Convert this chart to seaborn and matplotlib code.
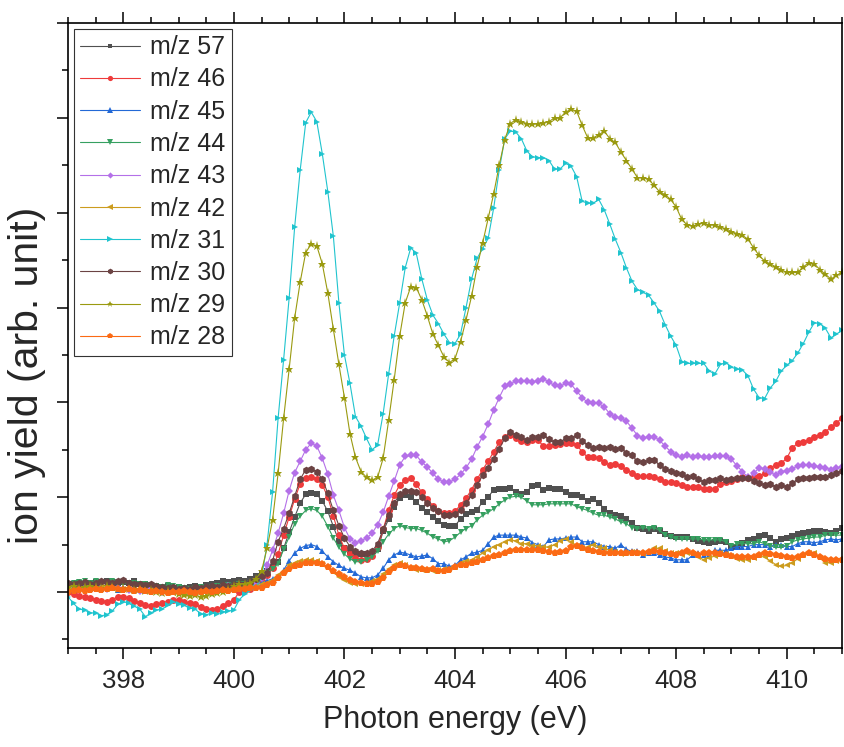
import numpy as np
import pandas as pd
import matplotlib
matplotlib.use("Agg")
import matplotlib.pyplot as plt
from matplotlib.ticker import MultipleLocator
import seaborn as sns

# Photon energy grid (eV), 0.1 eV steps
energy = np.round(np.arange(397.0, 411.05, 0.1), 1)

mz57 = [0.08, 0.09, 0.10, 0.09, 0.10, 0.11, 0.10, 0.12, 0.11, 0.10,
        0.11, 0.10, 0.12, 0.09, 0.08, 0.07, 0.06, 0.05, 0.06, 0.04,
        0.05, 0.04, 0.05, 0.06, 0.05, 0.07, 0.08, 0.10, 0.12, 0.11,
        0.12, 0.13, 0.12, 0.14, 0.17, 0.20, 0.22, 0.26, 0.32, 0.46,
        0.63, 0.79, 0.94, 1.03, 1.04, 1.03, 0.96, 0.85, 0.69, 0.54,
        0.46, 0.42, 0.40, 0.40, 0.40, 0.40, 0.45, 0.64, 0.77, 0.90,
        0.99, 1.02, 1.00, 0.95, 0.89, 0.84, 0.79, 0.75, 0.71, 0.70,
        0.70, 0.77, 0.82, 0.84, 0.87, 0.95, 1.00, 1.08, 1.09, 1.09,
        1.10, 1.05, 1.03, 1.06, 1.12, 1.13, 1.08, 1.10, 1.09, 1.09,
        1.05, 1.02, 1.02, 1.00, 0.96, 0.98, 0.94, 0.88, 0.83, 0.81,
        0.80, 0.77, 0.73, 0.68, 0.67, 0.64, 0.67, 0.64, 0.61, 0.59,
        0.58, 0.58, 0.58, 0.56, 0.54, 0.53, 0.52, 0.53, 0.54, 0.53,
        0.47, 0.48, 0.52, 0.55, 0.56, 0.59, 0.60, 0.57, 0.53, 0.56,
        0.57, 0.59, 0.61, 0.62, 0.63, 0.64, 0.64, 0.63, 0.62, 0.64,
        0.68]

mz46 = [0.00, -0.02, -0.04, -0.05, -0.06, -0.08, -0.09, -0.10, -0.08, -0.05,
        -0.05, -0.06, -0.09, -0.12, -0.14, -0.15, -0.13, -0.12, -0.10, -0.08,
        -0.08, -0.10, -0.12, -0.13, -0.16, -0.18, -0.19, -0.18, -0.15, -0.12,
        -0.08, 0.00, 0.02, 0.03, 0.06, 0.12, 0.18, 0.25, 0.40, 0.60,
        0.79, 0.98, 1.14, 1.20, 1.21, 1.19, 1.13, 1.00, 0.80, 0.60,
        0.46, 0.40, 0.36, 0.34, 0.35, 0.38, 0.47, 0.66, 0.86, 1.02,
        1.13, 1.18, 1.20, 1.14, 1.05, 0.98, 0.91, 0.85, 0.83, 0.83,
        0.85, 0.92, 0.99, 1.08, 1.19, 1.29, 1.38, 1.48, 1.58, 1.63,
        1.66, 1.62, 1.59, 1.58, 1.60, 1.60, 1.54, 1.54, 1.55, 1.56,
        1.57, 1.57, 1.55, 1.48, 1.42, 1.42, 1.41, 1.37, 1.34, 1.35,
        1.33, 1.29, 1.26, 1.22, 1.22, 1.22, 1.21, 1.19, 1.16, 1.16,
        1.15, 1.13, 1.11, 1.11, 1.11, 1.09, 1.09, 1.09, 1.14, 1.16,
        1.17, 1.19, 1.21, 1.20, 1.21, 1.22, 1.25, 1.31, 1.34, 1.36,
        1.41, 1.52, 1.57, 1.58, 1.60, 1.64, 1.66, 1.69, 1.74, 1.78,
        1.84]

mz45 = [0.03, 0.02, 0.04, 0.05, 0.03, 0.04, 0.03, 0.05, 0.04, 0.02,
        0.03, 0.04, 0.02, 0.03, 0.01, 0.02, 0.03, 0.01, 0.02, 0.00,
        0.01, 0.02, 0.00, 0.01, 0.02, 0.01, 0.03, 0.02, 0.03, 0.04,
        0.03, 0.04, 0.05, 0.06, 0.08, 0.10, 0.12, 0.14, 0.16, 0.23,
        0.33, 0.41, 0.46, 0.49, 0.50, 0.48, 0.43, 0.37, 0.32, 0.28,
        0.25, 0.23, 0.20, 0.16, 0.15, 0.15, 0.18, 0.25, 0.34, 0.39,
        0.42, 0.41, 0.39, 0.37, 0.38, 0.39, 0.35, 0.30, 0.30, 0.27,
        0.28, 0.34, 0.37, 0.41, 0.42, 0.44, 0.51, 0.58, 0.60, 0.60,
        0.60, 0.60, 0.58, 0.57, 0.52, 0.50, 0.48, 0.55, 0.56, 0.56,
        0.57, 0.58, 0.58, 0.53, 0.53, 0.53, 0.50, 0.48, 0.48, 0.46,
        0.50, 0.45, 0.43, 0.43, 0.39, 0.41, 0.41, 0.39, 0.37, 0.36,
        0.34, 0.34, 0.34, 0.39, 0.41, 0.39, 0.39, 0.44, 0.44, 0.44,
        0.46, 0.48, 0.48, 0.48, 0.50, 0.50, 0.50, 0.48, 0.50, 0.50,
        0.48, 0.48, 0.51, 0.53, 0.53, 0.52, 0.53, 0.55, 0.56, 0.55,
        0.56]

mz44 = [0.09, 0.10, 0.11, 0.12, 0.10, 0.12, 0.11, 0.10, 0.12, 0.11,
        0.10, 0.09, 0.10, 0.08, 0.09, 0.07, 0.06, 0.05, 0.07, 0.06,
        0.05, 0.04, 0.03, 0.04, 0.05, 0.04, 0.05, 0.06, 0.05, 0.07,
        0.06, 0.08, 0.09, 0.10, 0.12, 0.16, 0.20, 0.24, 0.30, 0.45,
        0.58, 0.72, 0.80, 0.86, 0.88, 0.86, 0.80, 0.69, 0.57, 0.47,
        0.40, 0.35, 0.32, 0.32, 0.34, 0.37, 0.43, 0.53, 0.61, 0.67,
        0.70, 0.68, 0.67, 0.67, 0.65, 0.62, 0.58, 0.56, 0.53, 0.54,
        0.58, 0.63, 0.67, 0.70, 0.76, 0.81, 0.84, 0.88, 0.93, 0.97,
        1.00, 1.01, 1.00, 0.96, 0.92, 0.92, 0.92, 0.93, 0.93, 0.93,
        0.93, 0.93, 0.90, 0.88, 0.86, 0.83, 0.81, 0.81, 0.79, 0.77,
        0.74, 0.72, 0.68, 0.67, 0.68, 0.67, 0.68, 0.65, 0.60, 0.58,
        0.56, 0.56, 0.56, 0.56, 0.56, 0.55, 0.55, 0.55, 0.55, 0.53,
        0.49, 0.51, 0.51, 0.51, 0.51, 0.53, 0.51, 0.49, 0.47, 0.47,
        0.49, 0.53, 0.55, 0.56, 0.57, 0.58, 0.58, 0.60, 0.60, 0.60,
        0.60]

mz43 = [0.04, 0.05, 0.03, 0.04, 0.05, 0.06, 0.04, 0.03, 0.05, 0.04,
        0.03, 0.02, 0.03, 0.01, 0.02, 0.03, 0.02, 0.00, 0.01, 0.02,
        0.01, 0.00, -0.01, 0.00, 0.02, 0.01, 0.03, 0.04, 0.05, 0.06,
        0.05, 0.07, 0.06, 0.08, 0.10, 0.15, 0.28, 0.44, 0.62, 0.83,
        1.07, 1.26, 1.38, 1.50, 1.57, 1.54, 1.41, 1.24, 1.02, 0.86,
        0.68, 0.56, 0.52, 0.54, 0.57, 0.62, 0.71, 0.84, 1.01, 1.17,
        1.34, 1.43, 1.44, 1.44, 1.37, 1.32, 1.25, 1.19, 1.16, 1.16,
        1.19, 1.24, 1.31, 1.40, 1.53, 1.64, 1.77, 1.92, 2.05, 2.17,
        2.19, 2.23, 2.23, 2.23, 2.21, 2.23, 2.25, 2.21, 2.18, 2.17,
        2.20, 2.19, 2.12, 2.05, 2.00, 1.99, 1.99, 1.95, 1.88, 1.85,
        1.83, 1.80, 1.73, 1.65, 1.62, 1.64, 1.64, 1.60, 1.54, 1.48,
        1.44, 1.42, 1.44, 1.42, 1.43, 1.42, 1.42, 1.43, 1.43, 1.43,
        1.40, 1.33, 1.27, 1.21, 1.25, 1.31, 1.30, 1.27, 1.23, 1.27,
        1.28, 1.30, 1.33, 1.34, 1.34, 1.33, 1.32, 1.31, 1.29, 1.31,
        1.32]

mz42 = [0.04, 0.03, 0.05, 0.04, 0.03, 0.04, 0.05, 0.03, 0.04, 0.02,
        0.03, 0.02, 0.03, 0.02, 0.01, 0.02, 0.00, 0.01, 0.00, -0.01,
        0.00, -0.02, -0.01, 0.00, -0.02, -0.01, 0.00, 0.01, 0.02, 0.03,
        0.03, 0.04, 0.05, 0.05, 0.06, 0.08, 0.10, 0.13, 0.18, 0.22,
        0.28, 0.31, 0.33, 0.34, 0.34, 0.33, 0.30, 0.26, 0.21, 0.16,
        0.13, 0.10, 0.09, 0.09, 0.10, 0.12, 0.14, 0.19, 0.24, 0.28,
        0.31, 0.29, 0.25, 0.23, 0.23, 0.23, 0.22, 0.23, 0.24, 0.24,
        0.26, 0.31, 0.33, 0.34, 0.37, 0.41, 0.44, 0.48, 0.50, 0.53,
        0.55, 0.54, 0.51, 0.51, 0.49, 0.49, 0.48, 0.47, 0.50, 0.54,
        0.56, 0.53, 0.49, 0.46, 0.47, 0.50, 0.48, 0.46, 0.44, 0.42,
        0.40, 0.41, 0.42, 0.41, 0.40, 0.43, 0.46, 0.46, 0.43, 0.41,
        0.41, 0.39, 0.41, 0.40, 0.37, 0.34, 0.36, 0.38, 0.41, 0.40,
        0.38, 0.35, 0.34, 0.34, 0.36, 0.39, 0.37, 0.33, 0.29, 0.27,
        0.28, 0.31, 0.35, 0.39, 0.41, 0.41, 0.36, 0.31, 0.31, 0.33,
        0.34]

mz31 = [-0.05, -0.12, -0.18, -0.19, -0.22, -0.22, -0.25, -0.24, -0.20, -0.13,
        -0.10, -0.12, -0.15, -0.18, -0.26, -0.22, -0.19, -0.18, -0.14, -0.10,
        -0.13, -0.14, -0.17, -0.18, -0.23, -0.24, -0.22, -0.23, -0.21, -0.20,
        -0.19, -0.08, -0.02, 0.02, 0.05, 0.15, 0.50, 1.05, 1.83, 2.45,
        3.10, 3.85, 4.45, 4.95, 5.06, 4.96, 4.62, 4.22, 3.75, 3.05,
        2.50, 2.20, 1.85, 1.75, 1.62, 1.50, 1.55, 1.88, 2.30, 2.70,
        3.05, 3.42, 3.63, 3.57, 3.30, 3.08, 2.92, 2.83, 2.72, 2.63,
        2.62, 2.72, 3.00, 3.30, 3.52, 3.62, 3.73, 4.05, 4.45, 4.78,
        4.86, 4.85, 4.78, 4.65, 4.59, 4.58, 4.58, 4.55, 4.46, 4.46,
        4.52, 4.49, 4.38, 4.12, 4.10, 4.10, 4.14, 4.03, 3.88, 3.72,
        3.58, 3.42, 3.28, 3.19, 3.16, 3.13, 3.05, 2.96, 2.82, 2.70,
        2.60, 2.43, 2.41, 2.41, 2.41, 2.41, 2.33, 2.30, 2.40, 2.42,
        2.37, 2.35, 2.34, 2.28, 2.14, 2.05, 2.04, 2.15, 2.22, 2.33,
        2.39, 2.44, 2.52, 2.62, 2.74, 2.84, 2.83, 2.78, 2.68, 2.72,
        2.76]

mz30 = [0.10, 0.08, 0.10, 0.11, 0.09, 0.10, 0.12, 0.11, 0.10, 0.12,
        0.13, 0.10, 0.09, 0.08, 0.07, 0.08, 0.06, 0.05, 0.04, 0.05,
        0.03, 0.04, 0.03, 0.05, 0.04, 0.05, 0.06, 0.05, 0.07, 0.06,
        0.07, 0.08, 0.09, 0.11, 0.14, 0.17, 0.20, 0.33, 0.53, 0.67,
        0.83, 1.01, 1.19, 1.29, 1.30, 1.27, 1.19, 1.04, 0.86, 0.70,
        0.57, 0.48, 0.43, 0.41, 0.41, 0.43, 0.51, 0.66, 0.81, 0.94,
        1.03, 1.07, 1.07, 1.05, 1.00, 0.94, 0.89, 0.85, 0.81, 0.81,
        0.82, 0.87, 0.94, 1.02, 1.13, 1.23, 1.31, 1.40, 1.51, 1.62,
        1.69, 1.66, 1.63, 1.60, 1.63, 1.63, 1.66, 1.61, 1.58, 1.58,
        1.62, 1.62, 1.66, 1.59, 1.55, 1.52, 1.53, 1.52, 1.53, 1.51,
        1.52, 1.47, 1.44, 1.38, 1.37, 1.39, 1.39, 1.34, 1.30, 1.28,
        1.26, 1.24, 1.21, 1.22, 1.19, 1.16, 1.18, 1.18, 1.20, 1.18,
        1.19, 1.20, 1.20, 1.20, 1.17, 1.15, 1.13, 1.14, 1.11, 1.13,
        1.11, 1.15, 1.19, 1.20, 1.20, 1.21, 1.21, 1.21, 1.23, 1.26,
        1.28]

mz29 = [0.05, 0.06, 0.04, 0.05, 0.06, 0.05, 0.04, 0.06, 0.05, 0.03,
        0.04, 0.03, 0.02, 0.03, 0.01, 0.02, 0.00, -0.01, 0.01, 0.00,
        -0.02, -0.03, -0.04, -0.03, -0.05, -0.04, -0.02, -0.01, 0.00, 0.03,
        0.06, 0.08, 0.09, 0.10, 0.14, 0.22, 0.46, 0.76, 1.25, 1.83,
        2.35, 2.89, 3.27, 3.58, 3.67, 3.65, 3.46, 3.15, 2.77, 2.40,
        2.05, 1.67, 1.42, 1.27, 1.21, 1.18, 1.21, 1.41, 1.81, 2.24,
        2.70, 3.05, 3.22, 3.21, 3.08, 2.91, 2.72, 2.60, 2.48, 2.42,
        2.46, 2.64, 2.87, 3.12, 3.43, 3.68, 3.94, 4.20, 4.50, 4.77,
        4.94, 4.98, 4.96, 4.94, 4.93, 4.94, 4.95, 4.96, 5.00, 5.00,
        5.06, 5.09, 5.07, 4.92, 4.79, 4.79, 4.82, 4.86, 4.78, 4.74,
        4.64, 4.55, 4.46, 4.37, 4.37, 4.35, 4.29, 4.22, 4.19, 4.14,
        4.06, 3.93, 3.87, 3.86, 3.88, 3.89, 3.87, 3.87, 3.85, 3.83,
        3.80, 3.78, 3.76, 3.72, 3.63, 3.55, 3.49, 3.46, 3.43, 3.40,
        3.37, 3.37, 3.37, 3.43, 3.47, 3.46, 3.40, 3.35, 3.30, 3.34,
        3.37]

mz28 = [0.00, 0.01, 0.02, 0.01, 0.02, 0.03, 0.02, 0.03, 0.04, 0.03,
        0.02, 0.03, 0.01, 0.02, 0.01, 0.00, 0.01, 0.00, -0.01, 0.00,
        0.00, 0.01, 0.00, -0.01, 0.00, 0.01, 0.00, 0.01, 0.02, 0.01,
        0.02, 0.03, 0.03, 0.04, 0.04, 0.04, 0.07, 0.10, 0.15, 0.20,
        0.24, 0.27, 0.29, 0.31, 0.31, 0.31, 0.30, 0.26, 0.22, 0.19,
        0.16, 0.13, 0.11, 0.10, 0.09, 0.09, 0.11, 0.15, 0.21, 0.25,
        0.28, 0.27, 0.25, 0.25, 0.24, 0.23, 0.24, 0.22, 0.22, 0.23,
        0.26, 0.29, 0.29, 0.31, 0.32, 0.34, 0.36, 0.38, 0.39, 0.41,
        0.43, 0.44, 0.44, 0.44, 0.44, 0.44, 0.43, 0.42, 0.41, 0.42,
        0.43, 0.47, 0.49, 0.46, 0.44, 0.43, 0.42, 0.41, 0.41, 0.41,
        0.41, 0.41, 0.41, 0.41, 0.41, 0.42, 0.43, 0.42, 0.41, 0.40,
        0.39, 0.41, 0.43, 0.41, 0.39, 0.41, 0.41, 0.41, 0.40, 0.39,
        0.38, 0.37, 0.37, 0.37, 0.37, 0.39, 0.41, 0.40, 0.39, 0.38,
        0.37, 0.36, 0.37, 0.39, 0.41, 0.39, 0.37, 0.35, 0.34, 0.34,
        0.34]

labels = ["m/z 57", "m/z 46", "m/z 45", "m/z 44", "m/z 43",
          "m/z 42", "m/z 31", "m/z 30", "m/z 29", "m/z 28"]
series = [mz57, mz46, mz45, mz44, mz43, mz42, mz31, mz30, mz29, mz28]

colors = ["#505050", "#EE3B3B", "#2369D6", "#36A060", "#B470E8",
          "#CC9C1E", "#20C4CE", "#6B4343", "#9A9A10", "#FB6A14"]
markers = ["s", "o", "^", "v", "D", "<", ">", "h", "*", "p"]
msizes = [4.5, 5.0, 5.0, 5.0, 4.2, 5.0, 5.0, 5.5, 6.5, 5.5]

df = pd.DataFrame({"energy": np.tile(energy, len(labels)),
                   "yield": np.concatenate([np.asarray(s, float) for s in series]),
                   "ion": np.repeat(labels, len(energy))})

sns.set_style("ticks")
plt.rcParams["font.family"] = ["Liberation Sans", "DejaVu Sans"]
plt.rcParams["axes.edgecolor"] = "black"

fig = plt.figure(figsize=(8.45, 7.47), dpi=100)
ax = fig.add_axes([68 / 845, 1 - 648 / 747, 774 / 845, 625 / 747])

for lab, col, mk, ms in zip(labels, colors, markers, msizes):
    sub = df[df["ion"] == lab]
    sns.lineplot(data=sub, x="energy", y="yield", ax=ax, color=col,
                 marker=mk, markersize=ms, markeredgewidth=0,
                 linewidth=0.8, label=lab, estimator=None)

ax.set_xlim(397, 411)
ax.set_ylim(-0.59, 6.0)
ax.xaxis.set_major_locator(MultipleLocator(2))
ax.xaxis.set_minor_locator(MultipleLocator(0.5))
ax.yaxis.set_major_locator(MultipleLocator(1))
ax.yaxis.set_minor_locator(MultipleLocator(0.5))

ax.tick_params(which="both", direction="out", top=True, bottom=True,
               left=True, right=False, labelleft=False, width=1.1,
               color="black")
ax.tick_params(which="major", length=8, pad=7, labelsize=18.5)
ax.tick_params(which="minor", length=4)
for sp in ax.spines.values():
    sp.set_linewidth(1.2)
    sp.set_color("black")

ax.set_xlabel("Photon energy (eV)", fontsize=22, labelpad=9)
ax.set_ylabel("ion yield (arb. unit)", fontsize=29.5, va="center")
ax.yaxis.set_label_coords(-0.0536, 0.437)

leg = ax.legend(loc="upper left", bbox_to_anchor=(6 / 774, 1 - 6 / 625),
                borderaxespad=0, frameon=True, fancybox=False,
                edgecolor="#333333", fontsize=18, handlelength=2.4,
                handletextpad=0.4, labelspacing=0.33, borderpad=0.25,
                markerscale=0.75)
leg.get_frame().set_linewidth(0.8)
leg.get_frame().set_alpha(1)

fig.savefig("out.png", dpi=100)
